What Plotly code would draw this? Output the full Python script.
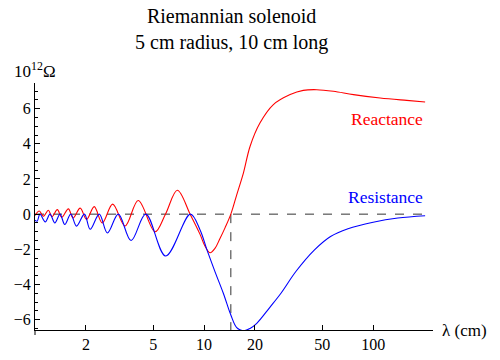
import math
import plotly.graph_objects as go

# Reactance (red), values in 10^12 ohm, wavelength in cm
react_lambda = [1.0, 1.06, 1.12, 1.20, 1.26, 1.355, 1.44, 1.575, 1.68, 1.85, 2.02, 2.24, 2.50,
                2.88, 3.41, 4.08, 5.13, 5.91, 6.95, 8.27, 9.47, 10.1, 10.86, 11.6, 12.4,
                13.3, 14.4, 15.6, 17.1, 18.7, 21.4, 25.7, 32.3, 38.6, 46.4, 58.2, 76.5, 110,
                158, 203]
react_value = [-0.08, 0.18, -0.12, 0.22, -0.15, 0.26, -0.18, 0.3, -0.22, 0.34, -0.3, 0.43, -0.5,
               0.57, -0.67, 0.78, -1.0, 0.0, 1.36, 0.0, -1.15, -1.8, -2.2, -1.95, -1.4,
               -0.78, 0.0, 1.1, 2.35, 3.85, 5.18, 6.23, 6.8, 7.04, 7.08, 6.99, 6.80, 6.61,
               6.47, 6.38]

# Resistance (blue)
resist_lambda = [1.0, 1.03, 1.07, 1.15, 1.227, 1.31, 1.406, 1.50, 1.627, 1.76, 1.96, 2.12, 2.40,
                 2.68, 3.11, 3.70, 4.52, 5.93, 8.3, 9.47, 10.4, 11.6, 13.0, 14.4, 15.6, 17.1,
                 18.7, 20.5, 24.5, 28.5, 35, 45, 56, 71, 100, 140, 203]
resist_value = [-0.35, -0.4, 0.0, -0.44, 0.0, -0.5, 0.0, -0.59, 0.0, -0.68, 0.0, -0.86, 0.0,
                -1.07, 0.0, -1.5, 0.0, -2.38, 0.0, -0.9, -2.03, -3.27, -4.5, -5.74, -6.45, -6.63,
                -6.5, -6.21, -5.3, -4.5, -3.25, -2.03, -1.27, -0.83, -0.46, -0.22, -0.09]

y_ticks = [-6, -4, -2, 0, 2, 4, 6]
x_ticks = [2, 5, 10, 20, 50, 100]
x_min, x_max = 1.0, 226.0
y_min, y_max = -6.59, 7.46
zero_cross = 14.4
curve_end = 203

FONT = "Liberation Serif"

fig = go.Figure()

# dashed reference lines
fig.add_trace(go.Scatter(x=[x_min, curve_end], y=[0, 0], mode="lines",
                         line=dict(color="#333333", width=1, dash="dash"),
                         hoverinfo="skip", showlegend=False))
fig.add_trace(go.Scatter(x=[zero_cross, zero_cross], y=[0, y_min], mode="lines",
                         line=dict(color="#333333", width=1, dash="dash"),
                         hoverinfo="skip", showlegend=False))

fig.add_trace(go.Scatter(x=react_lambda, y=react_value, mode="lines", name="Reactance",
                         line=dict(color="#ff0000", width=1.1, shape="spline", smoothing=1),
                         showlegend=False))
fig.add_trace(go.Scatter(x=resist_lambda, y=resist_value, mode="lines", name="Resistance",
                         line=dict(color="#0000ff", width=1.1, shape="spline", smoothing=1),
                         showlegend=False))

fig.update_layout(
    width=500, height=360,
    margin=dict(l=35, r=67, t=83, b=30, autoexpand=False),
    paper_bgcolor="white", plot_bgcolor="white",
    font=dict(family=FONT, color="black", size=16),
    showlegend=False,
    xaxis=dict(type="log", range=[math.log10(x_min), math.log10(x_max)],
               tickvals=x_ticks, ticktext=[str(v) for v in x_ticks],
               ticks="inside", ticklen=5, tickcolor="black", tickwidth=1,
               showline=True, linecolor="black", linewidth=1,
               showgrid=False, zeroline=False, automargin=False,
               tickfont=dict(family=FONT, size=16)),
    yaxis=dict(range=[y_min, y_max], tickvals=y_ticks,
               ticktext=[("\u2212" + str(-v)) if v < 0 else str(v) for v in y_ticks],
               ticks="inside", ticklen=5, tickcolor="black", tickwidth=1,
               minor=dict(dtick=0.5, tick0=0, ticks="inside", ticklen=3, tickcolor="black"),
               showline=True, linecolor="black", linewidth=1,
               showgrid=False, zeroline=False, automargin=False,
               tickfont=dict(family=FONT, size=16)),
    shapes=[dict(type="line", xref="paper", yref="paper", x0=0, x1=0, y0=-5 / 247, y1=0,
                 line=dict(color="black", width=1))],
)

annotations = [
    dict(text="Riemannian solenoid<br>5 cm radius, 10 cm long", xref="paper", yref="paper",
         x=(231 - 35) / 398, y=1 + (83 - 29.5) / 247, xanchor="center", yanchor="middle",
         showarrow=False, font=dict(family=FONT, size=20, color="black")),
    dict(text="10<sup>12</sup>\u03a9", xref="paper", yref="paper",
         x=(12 - 35) / 398, y=1 + (83 - 70) / 247, xanchor="left", yanchor="middle",
         showarrow=False, font=dict(family=FONT, size=17, color="black")),
    dict(text="\u03bb (cm)", xref="paper", yref="paper",
         x=(440 - 35) / 398, y=0, xanchor="left", yanchor="middle",
         showarrow=False, font=dict(family=FONT, size=17, color="black")),
    dict(text="Reactance", xref="x", yref="y", x=math.log10(curve_end), y=5.42,
         xanchor="right", yanchor="middle", showarrow=False,
         font=dict(family=FONT, size=17.5, color="#ff0000")),
    dict(text="Resistance", xref="x", yref="y", x=math.log10(curve_end), y=0.97,
         xanchor="right", yanchor="middle", showarrow=False,
         font=dict(family=FONT, size=17.5, color="#0000ff")),
]
fig.update_layout(annotations=annotations)

fig.write_html("out.html", post_script="document.body.style.margin='0';",
               config={"displayModeBar": False})
